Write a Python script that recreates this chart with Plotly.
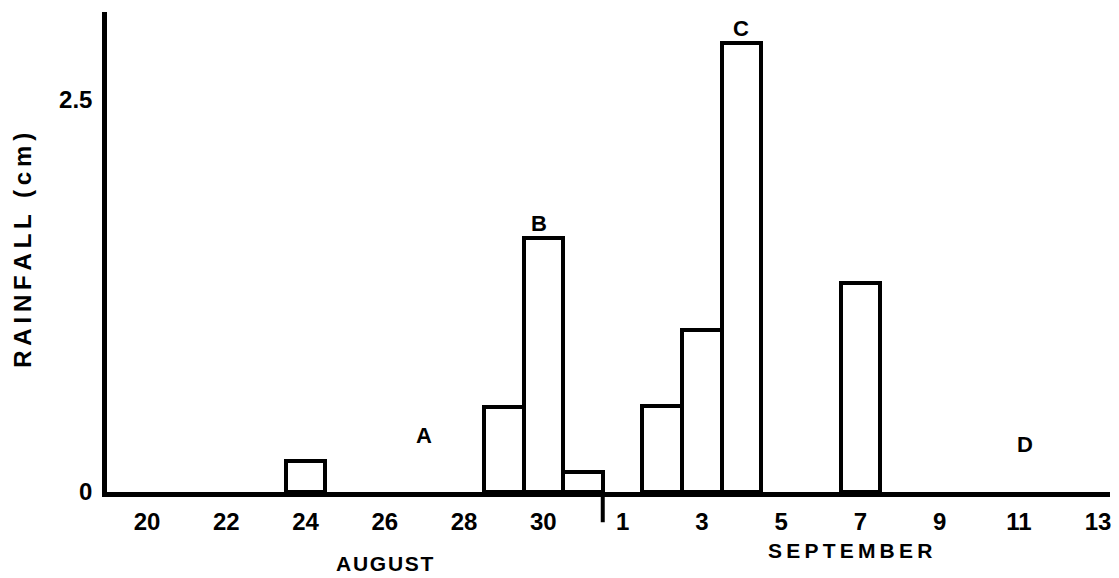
import plotly.graph_objects as go

# All days on the axis (Aug 20 .. Sep 13)
aug_days = [f"Aug {d}" for d in range(20, 32)]
sep_days = [f"Sep {d}" for d in range(1, 14)]
all_days = aug_days + sep_days

# Rainfall data
rain_dates = ["Aug 24", "Aug 29", "Aug 30", "Aug 31", "Sep 2", "Sep 3", "Sep 4", "Sep 7"]
rain_cm = [0.20, 0.54, 1.62, 0.13, 0.55, 1.03, 2.86, 1.33]

# Tick labels
tick_dates = ["Aug 20", "Aug 22", "Aug 24", "Aug 26", "Aug 28", "Aug 30",
              "Sep 1", "Sep 3", "Sep 5", "Sep 7", "Sep 9", "Sep 11", "Sep 13"]
tick_text = ["20", "22", "24", "26", "28", "30", "1", "3", "5", "7", "9", "11", "13"]

# Event labels
event_labels = ["A", "B", "C", "D"]
event_dates = ["Aug 27", "Aug 30", "Sep 4", "Sep 11"]
event_y = [0.36, 1.62, 2.86, 0.30]

FONT = "Liberation Sans, Arial, sans-serif"
TS = "\u2009"
HS = "\u200a"

fig = go.Figure()
fig.add_trace(go.Bar(
    x=rain_dates, y=rain_cm, width=1.0,
    marker=dict(color="white", line=dict(color="black", width=4)),
    showlegend=False, hoverinfo="x+y",
))

annotations = []
for lab, d, yv in zip(event_labels, event_dates, event_y):
    annotations.append(dict(
        x=d, y=yv, xref="x", yref="y", text=lab, showarrow=False,
        yanchor="bottom" if lab in ("B", "C") else "middle",
        xshift=-4 if lab == "B" else (6 if lab == "D" else 0),
        font=dict(family=FONT, size=22, color="black", weight="bold"),
    ))

annotations += [
    dict(x=-0.085, y=0.504, xref="paper", yref="paper", text=TS.join("RAINFALL (cm)"),
         textangle=-90, showarrow=False, xanchor="center", yanchor="middle",
         font=dict(family=FONT, size=24, color="black", weight="bold")),
    dict(x="Aug 26", y=-0.148, xref="x", yref="paper", text=HS.join("AUGUST"),
         showarrow=False, xanchor="center", yanchor="middle",
         font=dict(family=FONT, size=21, color="black", weight="bold")),
    dict(x=17.75, y=-0.121, xref="x", yref="paper", text=TS.join("SEPTEMBER"),
         showarrow=False, xanchor="center", yanchor="middle",
         font=dict(family=FONT, size=21, color="black", weight="bold")),
]

fig.update_layout(
    width=1119, height=578,
    margin=dict(l=107, r=9, t=12, b=86),
    paper_bgcolor="white", plot_bgcolor="white",
    bargap=0,
    annotations=annotations,
    shapes=[dict(type="line", xref="x", yref="paper", x0=11.5, x1=11.5,
                 y0=0, y1=-0.063, line=dict(color="black", width=4))],
    xaxis=dict(
        type="category", categoryorder="array", categoryarray=all_days,
        range=[-1.01, 24.3],
        tickvals=tick_dates, ticktext=tick_text,
        ticks="outside", ticklen=0, ticklabelstandoff=4,
        tickfont=dict(family=FONT, size=24, color="black", weight="bold"),
        showline=True, linecolor="black", linewidth=4.5,
        showgrid=False, zeroline=False,
    ),
    yaxis=dict(
        range=[0, 3.06],
        tickvals=[0, 2.5], ticktext=["0", "2.5"],
        ticks="outside", ticklen=0, ticklabelstandoff=5,
        tickfont=dict(family=FONT, size=24, color="black", weight="bold"),
        showline=True, linecolor="black", linewidth=4.5,
        showgrid=False, zeroline=False,
    ),
)

fig.write_html("out.html")
